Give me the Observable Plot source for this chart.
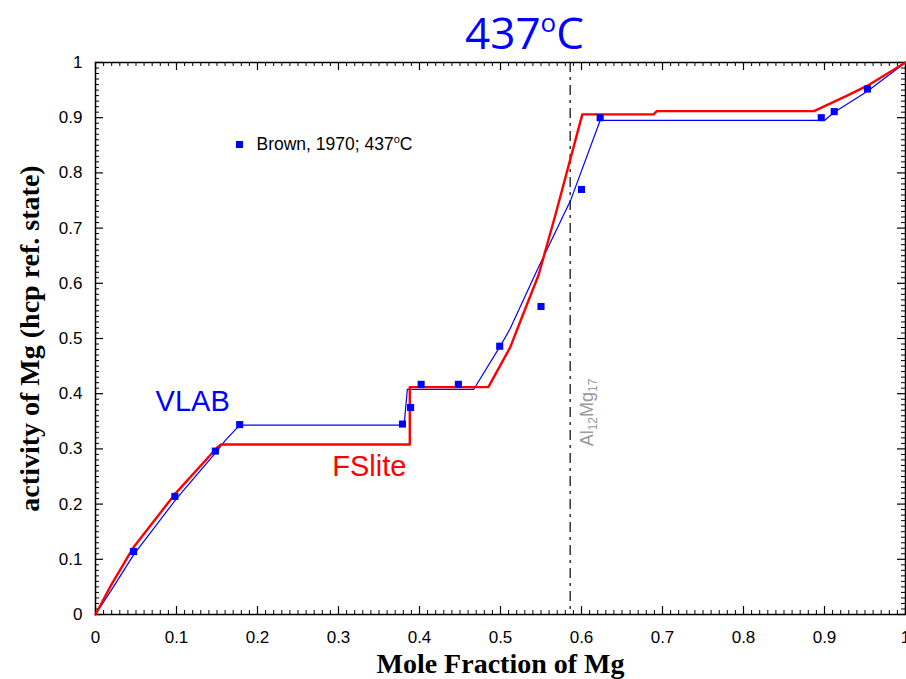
<!DOCTYPE html>
<html>
<head>
<meta charset="utf-8">
<script src="https://cdn.jsdelivr.net/npm/d3@7"></script>
<script src="https://cdn.jsdelivr.net/npm/@observablehq/plot@0.6"></script>
<style>
  html, body { margin: 0; padding: 0; background: #fff; }
</style>
</head>
<body>
<div id="chart"></div>
<script>
// ---- Data ----
const titleMain = "437";
const titleSup = "o";
const titleUnit = "C";
const xLabel = "Mole Fraction of Mg";
const yLabel = "activity of Mg (hcp ref. state)";
const legendLabel = "Brown, 1970; 437";
const vlabName = "VLAB";
const fsliteName = "FSlite";
const phaseName = ["Al", "12", "Mg", "17"];
const phaseX = 0.586;

// Experimental points (Brown, 1970)
const brownX = [0.047, 0.098, 0.148, 0.178, 0.379, 0.389, 0.402, 0.448, 0.499, 0.550, 0.600, 0.623, 0.896, 0.912, 0.953];
const brownY = [0.114, 0.214, 0.296, 0.344, 0.345, 0.375, 0.417, 0.417, 0.486, 0.558, 0.770, 0.900, 0.900, 0.911, 0.952];

// VLAB calculation (blue)
const vlabX = [0, 0.02, 0.047, 0.1, 0.15, 0.16, 0.178, 0.381, 0.385, 0.467, 0.5, 0.512, 0.545, 0.587, 0.623, 0.900, 0.912, 0.953, 1];
const vlabY = [0, 0.045, 0.108, 0.210, 0.296, 0.315, 0.343, 0.343, 0.408, 0.408, 0.487, 0.518, 0.623, 0.752, 0.895, 0.895, 0.910, 0.948, 1];

// FSlite calculation (red)
const fsX = [0, 0.02, 0.047, 0.098, 0.15, 0.155, 0.388, 0.388, 0.485, 0.512, 0.525, 0.547, 0.568, 0.601, 0.689, 0.693, 0.887, 0.928, 0.953, 1];
const fsY = [0, 0.055, 0.122, 0.218, 0.302, 0.308, 0.308, 0.412, 0.412, 0.484, 0.533, 0.615, 0.725, 0.906, 0.906, 0.912, 0.912, 0.940, 0.958, 1];

// Axis ticks
const majorTicks = d3.range(0, 11).map(i => i / 10);
const minorTicks = d3.range(0, 101).filter(i => i % 10 !== 0).map(i => i / 100);
const tickFmt = d => d === 0 ? "0" : d === 1 ? "1" : d.toFixed(1);

// ---- Build tables ----
const brown = brownX.map((x, i) => ({x, y: brownY[i]}));
const vlab = vlabX.map((x, i) => ({x, y: vlabY[i]}));
const fslite = fsX.map((x, i) => ({x, y: fsY[i]}));

const BLUE = "#0000ff", RED = "#ff0000";

const W = 906, H = 679;
const M = {top: 62, left: 95, right: 1, bottom: 65};
const innerW = W - M.left - M.right;
const innerH = H - M.top - M.bottom;
const MAJ = 8, MIN = 4;

// inward tick helpers (pixel lengths via insets)
const xTicks = (ticks, len, side) => Plot.ruleX(ticks, {x: d => d, stroke: "black", strokeWidth: len === MAJ ? 1.2 : 1,
  [side === "bottom" ? "insetTop" : "insetBottom"]: innerH - len});
const yTicks = (ticks, len, side) => Plot.ruleY(ticks, {y: d => d, stroke: "black", strokeWidth: len === MAJ ? 1.2 : 1,
  [side === "left" ? "insetRight" : "insetLeft"]: innerW - len});

const chart = Plot.plot({
  width: W,
  height: H,
  marginTop: M.top,
  marginLeft: M.left,
  marginRight: M.right,
  marginBottom: M.bottom,
  x: {domain: [0, 1], label: null},
  y: {domain: [0, 1], label: null},
  style: {fontFamily: "'Liberation Sans', Arial, sans-serif", fontSize: "17px", background: "white", overflow: "visible"},
  marks: [
    // tick labels
    Plot.axisX(majorTicks, {anchor: "bottom", tickSize: 0, tickPadding: 16, tickFormat: tickFmt, fontSize: 17, label: null}),
    Plot.axisY(majorTicks, {anchor: "left", tickSize: 0, tickPadding: 13, tickFormat: tickFmt, fontSize: 17, label: null}),
    // inward ticks on all four sides
    xTicks(majorTicks, MAJ, "bottom"), xTicks(minorTicks, MIN, "bottom"),
    xTicks(majorTicks, MAJ, "top"), xTicks(minorTicks, MIN, "top"),
    yTicks(majorTicks, MAJ, "left"), yTicks(minorTicks, MIN, "left"),
    yTicks(majorTicks, MAJ, "right"), yTicks(minorTicks, MIN, "right"),
    Plot.frame({stroke: "black", strokeWidth: 1.5}),

    // phase boundary
    Plot.ruleX([phaseX], {stroke: "black", strokeWidth: 1.2, strokeDasharray: "10,5,3,5"}),
    Plot.text([phaseName.join("")], {x: phaseX, y: 0.366, dx: 17, rotate: -90, fill: "#999999", fontSize: 18, textAnchor: "middle"}),

    // model curves
    Plot.line(vlab, {x: "x", y: "y", stroke: BLUE, strokeWidth: 1.2}),
    Plot.line(fslite, {x: "x", y: "y", stroke: RED, strokeWidth: 2.4}),

    // experimental data
    Plot.dot(brown, {x: "x", y: "y", symbol: "square", fill: BLUE, r: 4, stroke: "none"}),

    // series labels
    Plot.text([vlabName], {x: 0.12, y: 0.386, fill: BLUE, fontSize: 29, textAnchor: "middle"}),
    Plot.text([fsliteName], {x: 0.338, y: 0.268, fill: RED, fontSize: 29, textAnchor: "middle"}),

    // legend
    Plot.dot([0], {frameAnchor: "top-left", dx: 144, dy: 82, symbol: "square", fill: BLUE, r: 4, stroke: "none"}),
    Plot.text([legendLabel + titleSup + titleUnit], {frameAnchor: "top-left", dx: 161, dy: 82, textAnchor: "start", lineAnchor: "middle", fontSize: 17.5, fill: "black"}),

    // title
    Plot.text([titleMain + titleSup + titleUnit], {frameAnchor: "top", dx: 24, dy: -14, lineAnchor: "bottom", textAnchor: "middle", fontSize: 44, fill: BLUE, fontFamily: "'Open Sans', sans-serif"}),

    // axis titles
    Plot.text([xLabel], {frameAnchor: "bottom", dy: 50, textAnchor: "middle", lineAnchor: "middle", fontSize: 28, fontWeight: "bold", fontFamily: "'Liberation Serif', 'Times New Roman', serif", fill: "black"}),
    Plot.text([yLabel], {frameAnchor: "left", dx: -65, rotate: -90, textAnchor: "middle", lineAnchor: "middle", fontSize: 28, fontWeight: "bold", fontFamily: "'Liberation Serif', 'Times New Roman', serif", fill: "black"})
  ]
});

// ---- rich text (superscripts / subscripts) ----
const NS = "http://www.w3.org/2000/svg";
function rich(textEl, parts) {
  while (textEl.firstChild) textEl.removeChild(textEl.firstChild);
  for (const p of parts) {
    const ts = document.createElementNS(NS, "tspan");
    ts.textContent = p.t;
    if (p.dy) ts.setAttribute("dy", p.dy);
    if (p.size) ts.setAttribute("font-size", p.size);
    textEl.appendChild(ts);
  }
}
for (const t of chart.querySelectorAll("text")) {
  const s = t.textContent;
  if (s === titleMain + titleSup + titleUnit) {
    rich(t, [{t: titleMain}, {t: titleSup, size: 26, dy: -17}, {t: titleUnit, dy: 17}]);
  } else if (s === legendLabel + titleSup + titleUnit) {
    rich(t, [{t: legendLabel}, {t: titleSup, size: 11, dy: -7}, {t: titleUnit, dy: 7}]);
  } else if (s === phaseName.join("")) {
    rich(t, [{t: phaseName[0]}, {t: phaseName[1], size: 12, dy: 4}, {t: phaseName[2], dy: -4}, {t: phaseName[3], size: 12, dy: 4}]);
  }
}

document.getElementById("chart").appendChild(chart);
</script>
</body>
</html>
